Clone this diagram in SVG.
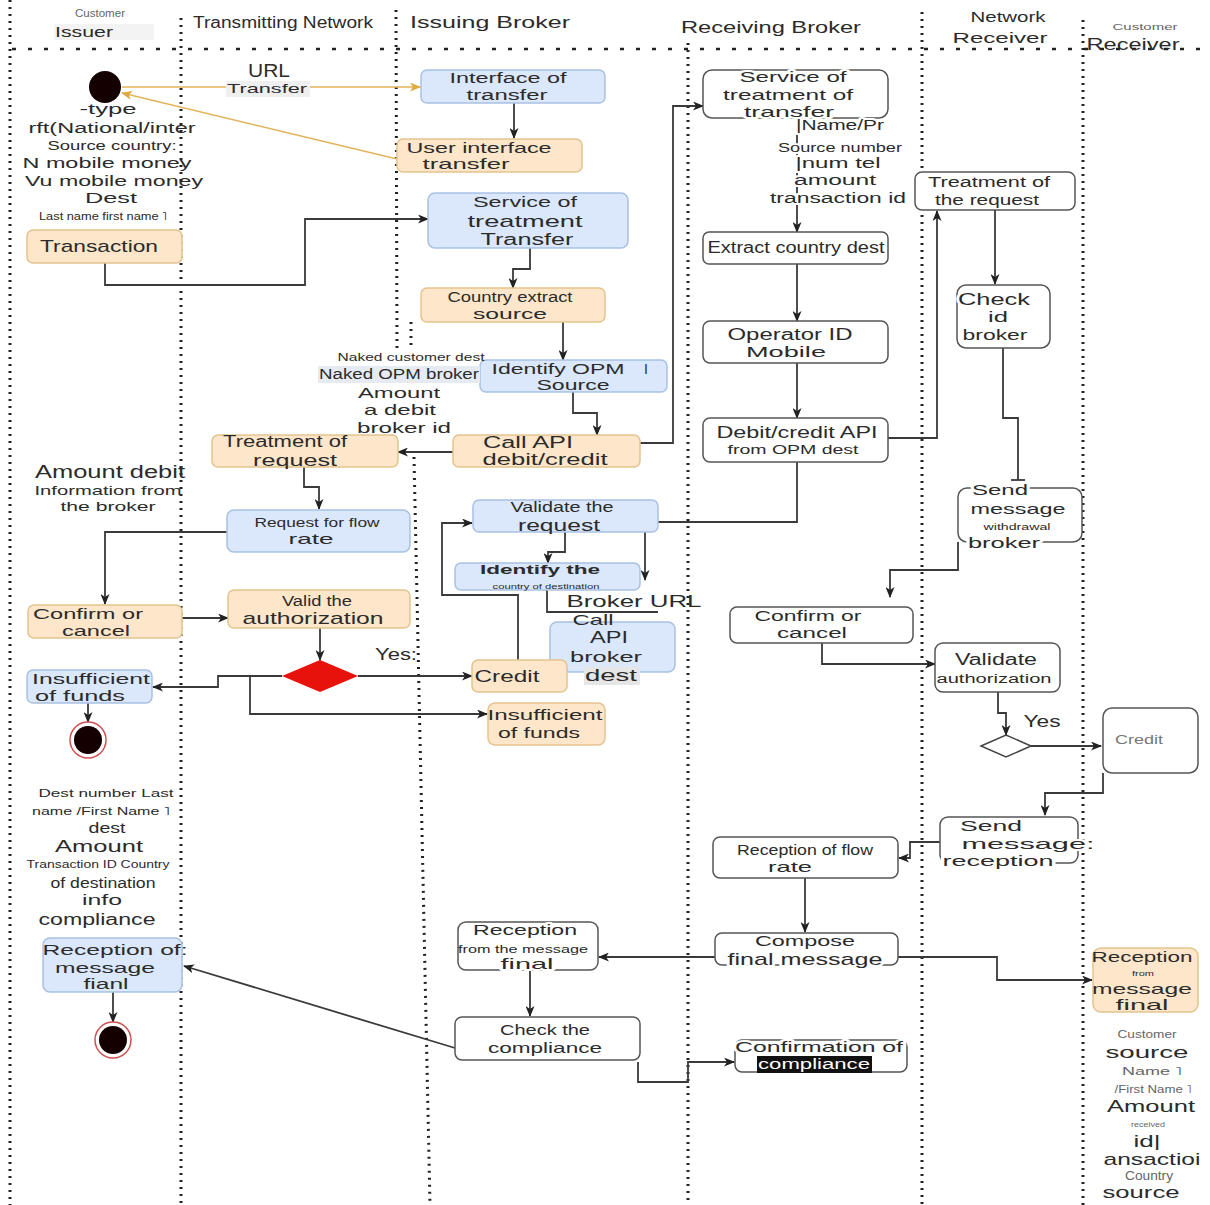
<svg xmlns="http://www.w3.org/2000/svg" width="1210" height="1205" viewBox="0 0 1210 1205">
<style>
.t{font-family:"Liberation Sans",Arial,sans-serif;fill:#2b2b2b;text-anchor:middle}
.g{fill:#666}
.o{fill:#fde6c9;stroke:#e3c38f;stroke-width:1.5}
.b{fill:#dbe7fa;stroke:#a9c1e3;stroke-width:1.5}
.w{fill:#fff;stroke:#555;stroke-width:1.5}
.c{fill:none;stroke:#3a3a3a;stroke-width:1.8}
.co{fill:none;stroke:#e2b45a;stroke-width:1.5}
.lane{stroke:#222;stroke-width:3;stroke-dasharray:2 5;fill:none}
.hl{stroke:#222;stroke-width:2.5;stroke-dasharray:4 12;fill:none}
.h{stroke:#fff;stroke-width:4;paint-order:stroke;stroke-linejoin:round}
</style>
<defs>
<marker id="a" markerUnits="userSpaceOnUse" markerWidth="11" markerHeight="9" refX="10" refY="4.5" orient="auto"><path d="M0,0 L11,4.5 L0,9 L3,4.5 z" fill="#222"/></marker>
<marker id="ao" markerUnits="userSpaceOnUse" markerWidth="11" markerHeight="9" refX="10" refY="4.5" orient="auto"><path d="M0,0 L11,4.5 L0,9 L3,4.5 z" fill="#e0a83e"/></marker>
</defs>
<rect width="1210" height="1205" fill="#fff"/>

<g id="lanes">
<line class="hl" x1="12" y1="49" x2="1210" y2="49"/>
<line class="lane" x1="10" y1="0" x2="10" y2="1205"/>
<line class="lane" x1="181" y1="18" x2="181" y2="1205"/>
<line class="lane" x1="396" y1="10" x2="397" y2="350"/>
<line class="lane" x1="411" y1="322" x2="411" y2="346"/>
<line class="lane" x1="414" y1="457" x2="430" y2="1205"/>
<line class="lane" x1="688" y1="43" x2="688" y2="1205"/>
<line class="lane" x1="922" y1="12" x2="922" y2="1205"/>
<line class="lane" x1="1083" y1="20" x2="1083" y2="1205"/>
</g>

<g id="headers">
<rect x="54" y="24" width="100" height="16" fill="#f3f3f3"/>
<text class="t g" x="100" y="17" font-size="10" textLength="50" lengthAdjust="spacingAndGlyphs">Customer</text>
<text class="t" x="84" y="37" font-size="15" textLength="58" lengthAdjust="spacingAndGlyphs">Issuer</text>
<text class="t" x="283" y="28" font-size="16" textLength="180" lengthAdjust="spacingAndGlyphs">Transmitting Network</text>
<text class="t" x="490" y="28" font-size="17" textLength="160" lengthAdjust="spacingAndGlyphs">Issuing Broker</text>
<text class="t" x="771" y="33" font-size="17" textLength="180" lengthAdjust="spacingAndGlyphs">Receiving Broker</text>
<text class="t" x="1008" y="22" font-size="14" textLength="75" lengthAdjust="spacingAndGlyphs">Network</text>
<text class="t" x="1000" y="43" font-size="15" textLength="95" lengthAdjust="spacingAndGlyphs">Receiver</text>
<text class="t g" x="1145" y="30" font-size="9" textLength="65" lengthAdjust="spacingAndGlyphs">Customer</text>
<text class="t" x="1133" y="50" font-size="16" textLength="93" lengthAdjust="spacingAndGlyphs">Receiver</text>
</g>

<g id="connectors">
<polyline class="co" points="122,87 420,87" marker-end="url(#ao)"/>
<polyline class="co" points="397,159 122,93" marker-end="url(#ao)"/>
<polyline class="c" points="514,103 514,138" marker-end="url(#a)"/>
<polyline class="c" points="105,263 105,285 305,285 305,219 428,219" marker-end="url(#a)"/>
<polyline class="c" points="530,248 530,269 513,269 513,288" marker-end="url(#a)"/>
<polyline class="c" points="563,322 563,360" marker-end="url(#a)"/>
<polyline class="c" points="573,392 573,413 597,413 597,435" marker-end="url(#a)"/>
<polyline class="c" points="453,452 398,452" marker-end="url(#a)"/>
<polyline class="c" points="640,443 673,443 673,106 703,106" marker-end="url(#a)"/>
<polyline class="c" points="304,467 304,487 319,487 319,509" marker-end="url(#a)"/>
<polyline class="c" points="227,532 105,532 105,604" marker-end="url(#a)"/>
<polyline class="c" points="182,618 228,618" marker-end="url(#a)"/>
<polyline class="c" points="320,628 320,660" marker-end="url(#a)"/>
<polyline class="c" points="282,676 218,676 218,687 153,687" marker-end="url(#a)"/>
<polyline class="c" points="358,676 472,676" marker-end="url(#a)"/>
<polyline class="c" points="250,676 250,714 487,714" marker-end="url(#a)"/>
<polyline class="c" points="88,703 88,722" marker-end="url(#a)"/>
<polyline class="c" points="797,118 797,232" marker-end="url(#a)"/>
<polyline class="c" points="797,264 797,321" marker-end="url(#a)"/>
<polyline class="c" points="797,363 797,418" marker-end="url(#a)"/>
<polyline class="c" points="888,438 937,438 937,211" marker-end="url(#a)"/>
<polyline class="c" points="995,210 995,284" marker-end="url(#a)"/>
<polyline class="c" points="1003,348 1003,418 1018,418 1018,480"/>
<line class="c" x1="1011" y1="480" x2="1025" y2="480"/>
<polyline class="c" points="797,462 797,522 645,522 645,580" marker-end="url(#a)"/>
<polyline class="c" points="565,532 565,552 548,552 548,563" marker-end="url(#a)"/>
<polyline class="c" points="518,660 518,595 442,595 442,523 472,523" marker-end="url(#a)"/>
<polyline class="c" points="547,590 547,612 658,612"/>
<polyline class="c" points="958,542 958,570 890,570 890,597" marker-end="url(#a)"/>
<polyline class="c" points="822,643 822,664 935,664" marker-end="url(#a)"/>
<polyline class="c" points="998,692 998,713 1006,713 1006,735" marker-end="url(#a)"/>
<polyline class="c" points="1031,746 1101,746" marker-end="url(#a)"/>
<polyline class="c" points="1103,773 1103,793 1045,793 1045,815" marker-end="url(#a)"/>
<polyline class="c" points="940,842 910,842 910,858 899,858" marker-end="url(#a)"/>
<polyline class="c" points="805,878 805,932" marker-end="url(#a)"/>
<polyline class="c" points="715,957 599,957" marker-end="url(#a)"/>
<polyline class="c" points="898,957 997,957 997,980 1092,980" marker-end="url(#a)"/>
<polyline class="c" points="530,970 530,1016" marker-end="url(#a)"/>
<polyline class="c" points="455,1048 184,966" marker-end="url(#a)"/>
<polyline class="c" points="638,1062 638,1082 688,1082 688,1062 734,1062" marker-end="url(#a)"/>
<polyline class="c" points="113,992 113,1022" marker-end="url(#a)"/>
</g>

<g id="start">
<circle cx="105" cy="87" r="16" fill="#140000"/>
</g>

<g id="url-label">
<text class="t" x="269" y="77" font-size="18" textLength="42" lengthAdjust="spacingAndGlyphs">URL</text>
<rect x="226" y="81" width="84" height="16" fill="#efefef"/>
<text class="t" x="267" y="93" font-size="13" textLength="80" lengthAdjust="spacingAndGlyphs">Transfer</text>
</g>

<g id="issuer-info">
<text class="t" x="108" y="114" font-size="15" textLength="57" lengthAdjust="spacingAndGlyphs">-type</text>
<text class="t" x="112" y="133" font-size="14" textLength="167" lengthAdjust="spacingAndGlyphs">rft(National/inter</text>
<text class="t" x="112" y="150" font-size="13" textLength="129" lengthAdjust="spacingAndGlyphs">Source country:</text>
<text class="t" x="107" y="168" font-size="15" textLength="169" lengthAdjust="spacingAndGlyphs">N mobile money</text>
<text class="t" x="114" y="186" font-size="15" textLength="178" lengthAdjust="spacingAndGlyphs">Vu mobile money</text>
<text class="t" x="111" y="203" font-size="15" textLength="52" lengthAdjust="spacingAndGlyphs">Dest</text>
<text class="t" x="103" y="220" font-size="10" textLength="128" lengthAdjust="spacingAndGlyphs">Last name first name ˥</text>
</g>

<g id="n-transaction">
<rect class="o" x="27" y="230" width="155" height="33" rx="6"/>
<text class="t" x="99" y="252" font-size="17" textLength="118" lengthAdjust="spacingAndGlyphs">Transaction</text>
</g>

<g id="n-interface">
<rect class="b" x="421" y="70" width="184" height="33" rx="6"/>
<text class="t" x="508" y="83" font-size="14" textLength="117" lengthAdjust="spacingAndGlyphs">Interface of</text>
<text class="t" x="507" y="100" font-size="14" textLength="81" lengthAdjust="spacingAndGlyphs">transfer</text>
</g>

<g id="n-user-interface">
<rect class="o" x="397" y="139" width="185" height="33" rx="6"/>
<text class="t" x="479" y="153" font-size="15" textLength="145" lengthAdjust="spacingAndGlyphs">User interface</text>
<text class="t" x="466" y="169" font-size="15" textLength="87" lengthAdjust="spacingAndGlyphs">transfer</text>
</g>

<g id="n-service-issuing">
<rect class="b" x="428" y="193" width="200" height="55" rx="7"/>
<text class="t" x="525" y="207" font-size="15" textLength="104" lengthAdjust="spacingAndGlyphs">Service of</text>
<text class="t" x="525" y="227" font-size="17" textLength="115" lengthAdjust="spacingAndGlyphs">treatment</text>
<text class="t" x="527" y="245" font-size="16" textLength="93" lengthAdjust="spacingAndGlyphs">Transfer</text>
</g>

<g id="n-country-extract">
<rect class="o" x="421" y="288" width="184" height="34" rx="6"/>
<text class="t" x="510" y="302" font-size="14" textLength="125" lengthAdjust="spacingAndGlyphs">Country extract</text>
<text class="t" x="510" y="319" font-size="15" textLength="74" lengthAdjust="spacingAndGlyphs">source</text>
</g>

<g id="n-identify-opm">
<rect class="b" x="480" y="360" width="187" height="32" rx="6"/>
<text class="t" x="558" y="374" font-size="14" textLength="133" lengthAdjust="spacingAndGlyphs">Identify OPM</text>
<text class="t" x="646" y="374" font-size="14">I</text>
<text class="t" x="573" y="390" font-size="14" textLength="73" lengthAdjust="spacingAndGlyphs">Source</text>
</g>

<g id="naked-info">
<text class="t" x="411" y="361" font-size="11" textLength="147" lengthAdjust="spacingAndGlyphs">Naked customer dest</text>
<rect x="318" y="366" width="162" height="17" fill="#e6eaf2"/>
<text class="t" x="399" y="379" font-size="14" textLength="160" lengthAdjust="spacingAndGlyphs">Naked OPM broker</text>
<text class="t" x="399" y="398" font-size="15" textLength="82" lengthAdjust="spacingAndGlyphs">Amount</text>
<text class="t" x="400" y="415" font-size="15" textLength="72" lengthAdjust="spacingAndGlyphs">a debit</text>
<text class="t" x="404" y="433" font-size="15" textLength="94" lengthAdjust="spacingAndGlyphs">broker id</text>
</g>

<g id="n-call-api">
<rect class="o" x="453" y="435" width="187" height="32" rx="6"/>
<text class="t" x="528" y="448" font-size="16" textLength="90" lengthAdjust="spacingAndGlyphs">Call API</text>
<text class="t" x="545" y="465" font-size="16" textLength="125" lengthAdjust="spacingAndGlyphs">debit/credit</text>
</g>

<g id="n-treatment-request">
<rect class="o" x="212" y="435" width="186" height="32" rx="6"/>
<text class="t" x="285" y="447" font-size="16" textLength="124" lengthAdjust="spacingAndGlyphs">Treatment of</text>
<text class="t" x="295" y="466" font-size="17" textLength="84" lengthAdjust="spacingAndGlyphs">request</text>
</g>

<g id="amount-info">
<text class="t" x="110" y="478" font-size="18" textLength="150" lengthAdjust="spacingAndGlyphs">Amount debit</text>
<text class="t" x="108" y="495" font-size="13" textLength="147" lengthAdjust="spacingAndGlyphs">Information from</text>
<text class="t" x="108" y="511" font-size="13" textLength="95" lengthAdjust="spacingAndGlyphs">the broker</text>
</g>

<g id="n-request-flow">
<rect class="b" x="227" y="510" width="183" height="42" rx="7"/>
<text class="t" x="317" y="527" font-size="13" textLength="125" lengthAdjust="spacingAndGlyphs">Request for flow</text>
<text class="t" x="311" y="544" font-size="15" textLength="45" lengthAdjust="spacingAndGlyphs">rate</text>
</g>

<g id="n-validate-request">
<rect class="b" x="473" y="500" width="185" height="32" rx="6"/>
<text class="t" x="562" y="512" font-size="14" textLength="103" lengthAdjust="spacingAndGlyphs">Validate the</text>
<text class="t" x="559" y="531" font-size="17" textLength="82" lengthAdjust="spacingAndGlyphs">request</text>
</g>

<g id="n-identify-country">
<rect class="b" x="455" y="563" width="185" height="27" rx="6"/>
<text class="t" x="540" y="574" font-size="13" font-weight="bold" textLength="120" lengthAdjust="spacingAndGlyphs">Identify the</text>
<text class="t" x="546" y="589" font-size="7" textLength="107" lengthAdjust="spacingAndGlyphs">country of destination</text>
</g>

<g id="broker-url">
<text class="t" x="634" y="607" font-size="17" textLength="135" lengthAdjust="spacingAndGlyphs">Broker URL</text>
</g>

<g id="n-call-api-broker">
<rect class="b" x="550" y="622" width="125" height="50" rx="7"/>
<text class="t" x="593" y="625" font-size="15" textLength="41" lengthAdjust="spacingAndGlyphs">Call</text>
<text class="t" x="609" y="643" font-size="16" textLength="38" lengthAdjust="spacingAndGlyphs">API</text>
<text class="t" x="606" y="662" font-size="14" textLength="72" lengthAdjust="spacingAndGlyphs">broker</text>
<rect x="584" y="667" width="56" height="18" fill="#e6e6e6"/>
<text class="t" x="611" y="681" font-size="16" textLength="52" lengthAdjust="spacingAndGlyphs">dest</text>
</g>

<g id="n-credit-issuing">
<rect class="o" x="472" y="660" width="95" height="32" rx="6"/>
<text class="t" x="507" y="682" font-size="17" textLength="65" lengthAdjust="spacingAndGlyphs">Credit</text>
</g>

<g id="n-insufficient-issuing">
<rect class="o" x="488" y="703" width="117" height="42" rx="7"/>
<text class="t" x="545" y="720" font-size="15" textLength="115" lengthAdjust="spacingAndGlyphs">Insufficient</text>
<text class="t" x="539" y="738" font-size="15" textLength="82" lengthAdjust="spacingAndGlyphs">of funds</text>
</g>

<g id="n-valid-authorization">
<rect class="o" x="228" y="590" width="182" height="38" rx="6"/>
<text class="t" x="317" y="606" font-size="14" textLength="70" lengthAdjust="spacingAndGlyphs">Valid the</text>
<text class="t" x="313" y="624" font-size="17" textLength="141" lengthAdjust="spacingAndGlyphs">authorization</text>
</g>

<g id="n-confirm-issuer">
<rect class="o" x="28" y="605" width="154" height="33" rx="6"/>
<text class="t" x="88" y="619" font-size="15" textLength="110" lengthAdjust="spacingAndGlyphs">Confirm or</text>
<text class="t" x="96" y="636" font-size="15" textLength="68" lengthAdjust="spacingAndGlyphs">cancel</text>
</g>

<g id="n-decision-issuing">
<polygon points="282,676 320,660 358,676 320,692" fill="#e8120c"/>
<text class="t" x="396" y="660" font-size="17" textLength="42" lengthAdjust="spacingAndGlyphs">Yes:</text>
</g>

<g id="n-insufficient-issuer">
<rect class="b" x="27" y="670" width="125" height="33" rx="6"/>
<text class="t" x="91" y="684" font-size="15" textLength="118" lengthAdjust="spacingAndGlyphs">Insufficient</text>
<text class="t" x="80" y="701" font-size="15" textLength="90" lengthAdjust="spacingAndGlyphs">of funds</text>
</g>

<g id="n-end1">
<circle cx="88" cy="740" r="18" fill="#fff" stroke="#d05050" stroke-width="1.5"/>
<circle cx="88" cy="740" r="14" fill="#140000"/>
</g>

<g id="dest-info">
<text class="t" x="106" y="797" font-size="11" textLength="135" lengthAdjust="spacingAndGlyphs">Dest number Last</text>
<text class="t" x="101" y="815" font-size="11" textLength="138" lengthAdjust="spacingAndGlyphs">name /First Name ˥</text>
<text class="t" x="107" y="833" font-size="15" textLength="37" lengthAdjust="spacingAndGlyphs">dest</text>
<text class="t" x="99" y="852" font-size="17" textLength="88" lengthAdjust="spacingAndGlyphs">Amount</text>
<text class="t" x="98" y="868" font-size="10" textLength="143" lengthAdjust="spacingAndGlyphs">Transaction ID Country</text>
<text class="t" x="103" y="888" font-size="14" textLength="105" lengthAdjust="spacingAndGlyphs">of destination</text>
<text class="t" x="102" y="905" font-size="14" textLength="40" lengthAdjust="spacingAndGlyphs">info</text>
<text class="t" x="97" y="925" font-size="16" textLength="117" lengthAdjust="spacingAndGlyphs">compliance</text>
</g>

<g id="n-reception-issuer">
<rect class="b" x="43" y="938" width="139" height="54" rx="7"/>
<text class="t" x="115" y="955" font-size="15" textLength="145" lengthAdjust="spacingAndGlyphs">Reception of:</text>
<text class="t" x="105" y="973" font-size="15" textLength="100" lengthAdjust="spacingAndGlyphs">message</text>
<text class="t" x="106" y="989" font-size="15" textLength="45" lengthAdjust="spacingAndGlyphs">fianl</text>
</g>

<g id="n-end2">
<circle cx="113" cy="1040" r="18" fill="#fff" stroke="#d05050" stroke-width="1.5"/>
<circle cx="113" cy="1040" r="14" fill="#140000"/>
</g>

<g id="n-service-receiving">
<rect class="w" x="703" y="70" width="185" height="48" rx="9"/>
<text class="t h" x="793" y="82" font-size="15" textLength="107" lengthAdjust="spacingAndGlyphs">Service of</text>
<text class="t h" x="788" y="100" font-size="15" textLength="130" lengthAdjust="spacingAndGlyphs">treatment of</text>
<text class="t h" x="789" y="117" font-size="15" textLength="90" lengthAdjust="spacingAndGlyphs">transfer</text>
</g>

<g id="transfer-info">
<text class="t h" x="840" y="130" font-size="14" textLength="88" lengthAdjust="spacingAndGlyphs">|Name/Pr</text>
<text class="t h" x="840" y="152" font-size="12" textLength="124" lengthAdjust="spacingAndGlyphs">Source number</text>
<text class="t h" x="838" y="168" font-size="14" textLength="85" lengthAdjust="spacingAndGlyphs">|num tel</text>
<text class="t h" x="835" y="185" font-size="14" textLength="82" lengthAdjust="spacingAndGlyphs">amount</text>
<text class="t h" x="838" y="203" font-size="14" textLength="136" lengthAdjust="spacingAndGlyphs">transaction id</text>
</g>

<g id="n-extract-country">
<rect class="w" x="703" y="232" width="185" height="32" rx="6"/>
<text class="t" x="796" y="253" font-size="16" textLength="177" lengthAdjust="spacingAndGlyphs">Extract country dest</text>
</g>

<g id="n-operator">
<rect class="w" x="703" y="321" width="185" height="42" rx="7"/>
<text class="t" x="790" y="340" font-size="16" textLength="125" lengthAdjust="spacingAndGlyphs">Operator ID</text>
<text class="t" x="786" y="357" font-size="15" textLength="80" lengthAdjust="spacingAndGlyphs">Mobile</text>
</g>

<g id="n-debit-credit-api">
<rect class="w" x="703" y="418" width="185" height="44" rx="7"/>
<text class="t" x="797" y="438" font-size="16" textLength="161" lengthAdjust="spacingAndGlyphs">Debit/credit API</text>
<text class="t" x="793" y="454" font-size="12" textLength="131" lengthAdjust="spacingAndGlyphs">from OPM dest</text>
</g>

<g id="n-treatment-network">
<rect class="w" x="915" y="172" width="160" height="38" rx="7"/>
<text class="t" x="989" y="187" font-size="14" textLength="122" lengthAdjust="spacingAndGlyphs">Treatment of</text>
<text class="t" x="987" y="205" font-size="14" textLength="104" lengthAdjust="spacingAndGlyphs">the request</text>
</g>

<g id="n-check-id">
<rect class="w" x="957" y="285" width="93" height="63" rx="9"/>
<text class="t h" x="994" y="305" font-size="17" textLength="72" lengthAdjust="spacingAndGlyphs">Check</text>
<text class="t" x="998" y="322" font-size="15" textLength="20" lengthAdjust="spacingAndGlyphs">id</text>
<text class="t h" x="995" y="340" font-size="15" textLength="65" lengthAdjust="spacingAndGlyphs">broker</text>
</g>

<g id="n-send-withdrawal">
<rect class="w" x="958" y="488" width="124" height="54" rx="9"/>
<text class="t h" x="1000" y="495" font-size="15" textLength="56" lengthAdjust="spacingAndGlyphs">Send</text>
<text class="t" x="1018" y="514" font-size="15" textLength="95" lengthAdjust="spacingAndGlyphs">message</text>
<text class="t" x="1017" y="530" font-size="9" textLength="67" lengthAdjust="spacingAndGlyphs">withdrawal</text>
<text class="t h" x="1004" y="548" font-size="15" textLength="72" lengthAdjust="spacingAndGlyphs">broker</text>
</g>

<g id="n-confirm-receiving">
<rect class="w" x="730" y="607" width="183" height="36" rx="7"/>
<text class="t" x="808" y="621" font-size="14" textLength="107" lengthAdjust="spacingAndGlyphs">Confirm or</text>
<text class="t" x="812" y="638" font-size="14" textLength="70" lengthAdjust="spacingAndGlyphs">cancel</text>
</g>

<g id="n-validate-authorization">
<rect class="w" x="935" y="643" width="125" height="49" rx="8"/>
<text class="t" x="996" y="665" font-size="16" textLength="82" lengthAdjust="spacingAndGlyphs">Validate</text>
<text class="t" x="994" y="683" font-size="12" textLength="115" lengthAdjust="spacingAndGlyphs">authorization</text>
</g>

<g id="n-decision-network">
<polygon points="981,746 1006,735 1031,746 1006,757" fill="#fff" stroke="#444" stroke-width="1.5"/>
<text class="t" x="1042" y="727" font-size="16" textLength="37" lengthAdjust="spacingAndGlyphs">Yes</text>
</g>

<g id="n-credit-receiver">
<rect class="w" x="1103" y="708" width="95" height="65" rx="9"/>
<text class="t" x="1139" y="744" font-size="13" textLength="48" lengthAdjust="spacingAndGlyphs" style="fill:#777">Credit</text>
</g>

<g id="n-send-reception">
<rect class="w" x="940" y="817" width="138" height="46" rx="8"/>
<text class="t h" x="991" y="831" font-size="15" textLength="62" lengthAdjust="spacingAndGlyphs">Send</text>
<text class="t h" x="1028" y="849" font-size="15" textLength="133" lengthAdjust="spacingAndGlyphs">message:</text>
<text class="t h" x="998" y="866" font-size="15" textLength="111" lengthAdjust="spacingAndGlyphs">reception</text>
</g>

<g id="n-reception-flow">
<rect class="w" x="713" y="837" width="185" height="41" rx="7"/>
<text class="t" x="805" y="855" font-size="14" textLength="136" lengthAdjust="spacingAndGlyphs">Reception of flow</text>
<text class="t" x="790" y="872" font-size="15" textLength="44" lengthAdjust="spacingAndGlyphs">rate</text>
</g>

<g id="n-compose">
<rect class="w" x="715" y="933" width="183" height="32" rx="7"/>
<text class="t h" x="805" y="946" font-size="15" textLength="100" lengthAdjust="spacingAndGlyphs">Compose</text>
<text class="t h" x="805" y="965" font-size="17" textLength="155" lengthAdjust="spacingAndGlyphs">final message</text>
</g>

<g id="n-reception-final-issuing">
<rect class="w" x="458" y="922" width="140" height="48" rx="8"/>
<text class="t h" x="525" y="935" font-size="15" textLength="104" lengthAdjust="spacingAndGlyphs">Reception</text>
<text class="t" x="523" y="953" font-size="11" textLength="130" lengthAdjust="spacingAndGlyphs">from the message</text>
<text class="t h" x="527" y="969" font-size="15" textLength="53" lengthAdjust="spacingAndGlyphs">final</text>
</g>

<g id="n-check-compliance">
<rect class="w" x="455" y="1017" width="185" height="43" rx="7"/>
<text class="t" x="545" y="1035" font-size="15" textLength="90" lengthAdjust="spacingAndGlyphs">Check the</text>
<text class="t" x="545" y="1053" font-size="15" textLength="114" lengthAdjust="spacingAndGlyphs">compliance</text>
</g>

<g id="n-confirmation-compliance">
<rect class="w" x="735" y="1040" width="172" height="32" rx="7"/>
<text class="t h" x="819" y="1052" font-size="15" textLength="168" lengthAdjust="spacingAndGlyphs">Confirmation of</text>
<rect x="757" y="1056" width="115" height="17" fill="#111"/>
<text class="t" x="814" y="1069" font-size="14" textLength="112" lengthAdjust="spacingAndGlyphs" style="fill:#fff">compliance</text>
</g>

<g id="n-reception-final-receiver">
<rect class="o" x="1093" y="948" width="105" height="64" rx="8"/>
<text class="t" x="1142" y="962" font-size="15" textLength="101" lengthAdjust="spacingAndGlyphs">Reception</text>
<text class="t" x="1143" y="976" font-size="7" textLength="22" lengthAdjust="spacingAndGlyphs">from</text>
<text class="t" x="1142" y="994" font-size="15" textLength="100" lengthAdjust="spacingAndGlyphs">message</text>
<text class="t" x="1142" y="1010" font-size="15" textLength="53" lengthAdjust="spacingAndGlyphs">final</text>
</g>

<g id="receiver-info">
<text class="t g" x="1147" y="1038" font-size="11" textLength="59" lengthAdjust="spacingAndGlyphs">Customer</text>
<text class="t" x="1147" y="1058" font-size="16" textLength="83" lengthAdjust="spacingAndGlyphs">source</text>
<text class="t g" x="1152" y="1075" font-size="11" textLength="60" lengthAdjust="spacingAndGlyphs">Name ˥</text>
<text class="t g" x="1153" y="1093" font-size="11" textLength="77" lengthAdjust="spacingAndGlyphs">/First Name ˥</text>
<text class="t" x="1151" y="1112" font-size="17" textLength="88" lengthAdjust="spacingAndGlyphs">Amount</text>
<text class="t g" x="1148" y="1127" font-size="7" textLength="34" lengthAdjust="spacingAndGlyphs">received</text>
<text class="t" x="1147" y="1147" font-size="17" textLength="27" lengthAdjust="spacingAndGlyphs">id|</text>
<text class="t" x="1152" y="1165" font-size="17" textLength="97" lengthAdjust="spacingAndGlyphs">ansactioi</text>
<text class="t g" x="1149" y="1180" font-size="12" textLength="48" lengthAdjust="spacingAndGlyphs">Country</text>
<text class="t" x="1141" y="1198" font-size="16" textLength="77" lengthAdjust="spacingAndGlyphs">source</text>
</g>
</svg>
